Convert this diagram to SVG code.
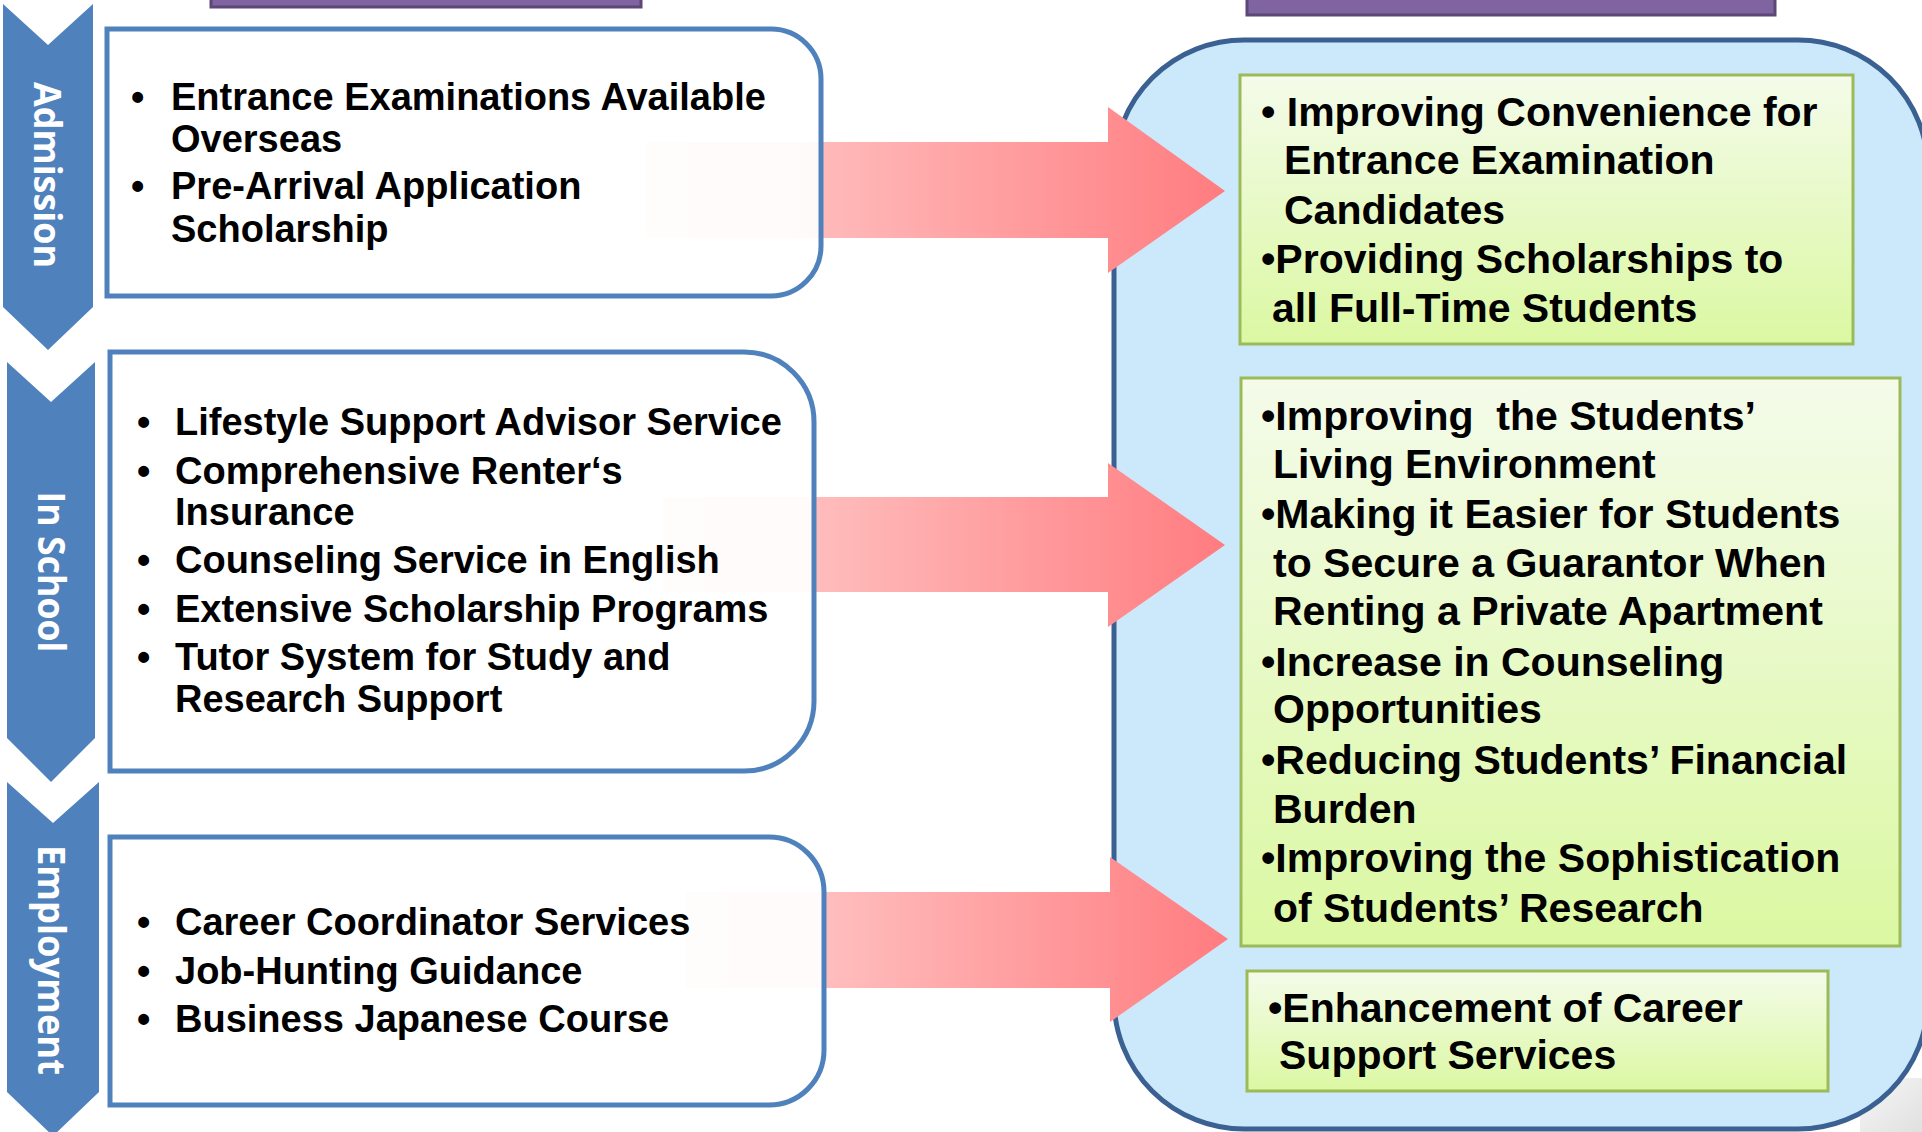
<svg xmlns="http://www.w3.org/2000/svg" width="1922" height="1132" viewBox="0 0 1922 1132">
  <defs>
    <linearGradient id="pinkGrad" x1="0" y1="0" x2="1" y2="0">
      <stop offset="0" stop-color="#FFD0D0"/>
      <stop offset="0.3" stop-color="#FFBABA"/>
      <stop offset="1" stop-color="#FF7C80"/>
    </linearGradient>
    <linearGradient id="greenGrad" x1="0" y1="0" x2="0" y2="1">
      <stop offset="0" stop-color="#F4FBEA"/>
      <stop offset="1" stop-color="#DBF8A2"/>
    </linearGradient>
    <linearGradient id="grayGrad" x1="0" y1="0" x2="1" y2="1">
      <stop offset="0" stop-color="#F7F7F7"/>
      <stop offset="1" stop-color="#E0E0E0"/>
    </linearGradient>
    <style>
      .stage { fill: #4F81BD; }
      .stageLabel { font-family: "Open Sans", "Noto Sans", "DejaVu Sans", sans-serif; font-weight: 700; font-size: 38px; fill: #FFFFFF; text-anchor: middle; }
      .leftBox { fill: #FFFFFF; fill-opacity: 0.93; stroke: #4F81BD; stroke-width: 5; }
      .leftText { font-family: "Liberation Sans", Arial, sans-serif; font-weight: bold; font-size: 38px; fill: #000000; }
      .rightText { font-family: "Liberation Sans", Arial, sans-serif; font-weight: bold; font-size: 41px; fill: #000000; }
      .greenBox { fill: url(#greenGrad); stroke: #9BBB59; stroke-width: 3; }
      .connector { fill: url(#pinkGrad); }
      .titleBar { fill: #8064A2; stroke: #5C4776; stroke-width: 3; }
    </style>
  </defs>

  <rect width="1922" height="1132" fill="#FFFFFF"/>

  <!-- title bars (cut off at top) -->
  <g id="title-left"><rect class="titleBar" x="211" y="-20" width="430" height="27"/></g>
  <g id="title-right"><rect class="titleBar" x="1247" y="-20" width="528" height="35"/></g>

  <!-- gray fragment bottom right -->
  <rect x="1860" y="1078" width="62" height="54" fill="url(#grayGrad)"/>

  <!-- effects container -->
  <g id="effects-container">
    <rect x="1114" y="40" width="814" height="1089" rx="130" ry="130" fill="#CCE9FB" stroke="#3B6092" stroke-width="5"/>
  </g>

  <!-- connectors -->
  <g id="connectors">
    <polygon class="connector" points="646,142 1108,142 1108,107 1225,191 1108,273 1108,238 646,238"/>
    <polygon class="connector" points="663,497 1108,497 1108,463 1225,545 1108,627 1108,592 663,592"/>
    <polygon class="connector" points="686,892 1110,892 1110,857 1228,939 1110,1022 1110,988 686,988"/>
  </g>

  <!-- stage arrows -->
  <g id="stage-admission">
    <polygon class="stage" points="3,4 48,45 93,4 93,307 48,350 3,307"/>
    <text class="stageLabel" transform="translate(34,175) rotate(90)" textLength="186" lengthAdjust="spacingAndGlyphs">Admission</text>
  </g>
  <g id="stage-in-school">
    <polygon class="stage" points="7,362 51,402 95,362 95,738 51,782 7,738"/>
    <text class="stageLabel" transform="translate(38,572) rotate(90)" textLength="161" lengthAdjust="spacingAndGlyphs">In School</text>
  </g>
  <g id="stage-employment">
    <polygon class="stage" points="7,782 53,823 99,782 99,1092 53,1136 7,1092"/>
    <text class="stageLabel" transform="translate(38,960) rotate(90)" textLength="230" lengthAdjust="spacingAndGlyphs">Employment</text>
  </g>

  <!-- left boxes -->
  <g id="box-admission">
    <path class="leftBox" d="M107,29 H771 A50,50 0 0 1 821,79 V246 A50,50 0 0 1 771,296 H107 Z"/>
    <text class="leftText" x="131" y="110">•</text>
    <text class="leftText" x="171" y="110">Entrance Examinations Available</text>
    <text class="leftText" x="171" y="152">Overseas</text>
    <text class="leftText" x="131" y="199">•</text>
    <text class="leftText" x="171" y="199">Pre-Arrival Application</text>
    <text class="leftText" x="171" y="242">Scholarship</text>
  </g>
  <g id="box-in-school">
    <path class="leftBox" d="M110,352 H744 A70,70 0 0 1 814,422 V701 A70,70 0 0 1 744,771 H110 Z"/>
    <text class="leftText" x="137" y="435">•</text>
    <text class="leftText" x="175" y="435">Lifestyle Support Advisor Service</text>
    <text class="leftText" x="137" y="484">•</text>
    <text class="leftText" x="175" y="484">Comprehensive Renter‘s</text>
    <text class="leftText" x="175" y="525">Insurance</text>
    <text class="leftText" x="137" y="573">•</text>
    <text class="leftText" x="175" y="573">Counseling Service in English</text>
    <text class="leftText" x="137" y="622">•</text>
    <text class="leftText" x="175" y="622">Extensive Scholarship Programs</text>
    <text class="leftText" x="137" y="670">•</text>
    <text class="leftText" x="175" y="670">Tutor System for Study and</text>
    <text class="leftText" x="175" y="712">Research Support</text>
  </g>
  <g id="box-employment">
    <path class="leftBox" d="M110,837 H769 A55,55 0 0 1 824,892 V1050 A55,55 0 0 1 769,1105 H110 Z"/>
    <text class="leftText" x="137" y="935">•</text>
    <text class="leftText" x="175" y="935">Career Coordinator Services</text>
    <text class="leftText" x="137" y="984">•</text>
    <text class="leftText" x="175" y="984">Job-Hunting Guidance</text>
    <text class="leftText" x="137" y="1032">•</text>
    <text class="leftText" x="175" y="1032">Business Japanese Course</text>
  </g>

  <!-- effect boxes -->
  <g id="effect-admission">
    <rect class="greenBox" x="1240" y="75" width="613" height="269"/>
    <text class="rightText" x="1261" y="126">• Improving Convenience for</text>
    <text class="rightText" x="1284" y="174">Entrance Examination</text>
    <text class="rightText" x="1284" y="224">Candidates</text>
    <text class="rightText" x="1261" y="273">•Providing Scholarships to</text>
    <text class="rightText" x="1272" y="322">all Full-Time Students</text>
  </g>
  <g id="effect-in-school">
    <rect class="greenBox" x="1241" y="378" width="659" height="568"/>
    <text class="rightText" x="1261" y="430" xml:space="preserve">•Improving  the Students’</text>
    <text class="rightText" x="1273" y="478">Living Environment</text>
    <text class="rightText" x="1261" y="528">•Making it Easier for Students</text>
    <text class="rightText" x="1273" y="577">to Secure a Guarantor When</text>
    <text class="rightText" x="1273" y="625">Renting a Private Apartment</text>
    <text class="rightText" x="1261" y="676">•Increase in Counseling</text>
    <text class="rightText" x="1273" y="723">Opportunities</text>
    <text class="rightText" x="1261" y="774">•Reducing Students’ Financial</text>
    <text class="rightText" x="1273" y="823">Burden</text>
    <text class="rightText" x="1261" y="872">•Improving the Sophistication</text>
    <text class="rightText" x="1273" y="922">of Students’ Research</text>
  </g>
  <g id="effect-employment">
    <rect class="greenBox" x="1247" y="971" width="581" height="120"/>
    <text class="rightText" x="1268" y="1022">•Enhancement of Career</text>
    <text class="rightText" x="1279" y="1069">Support Services</text>
  </g>
</svg>
